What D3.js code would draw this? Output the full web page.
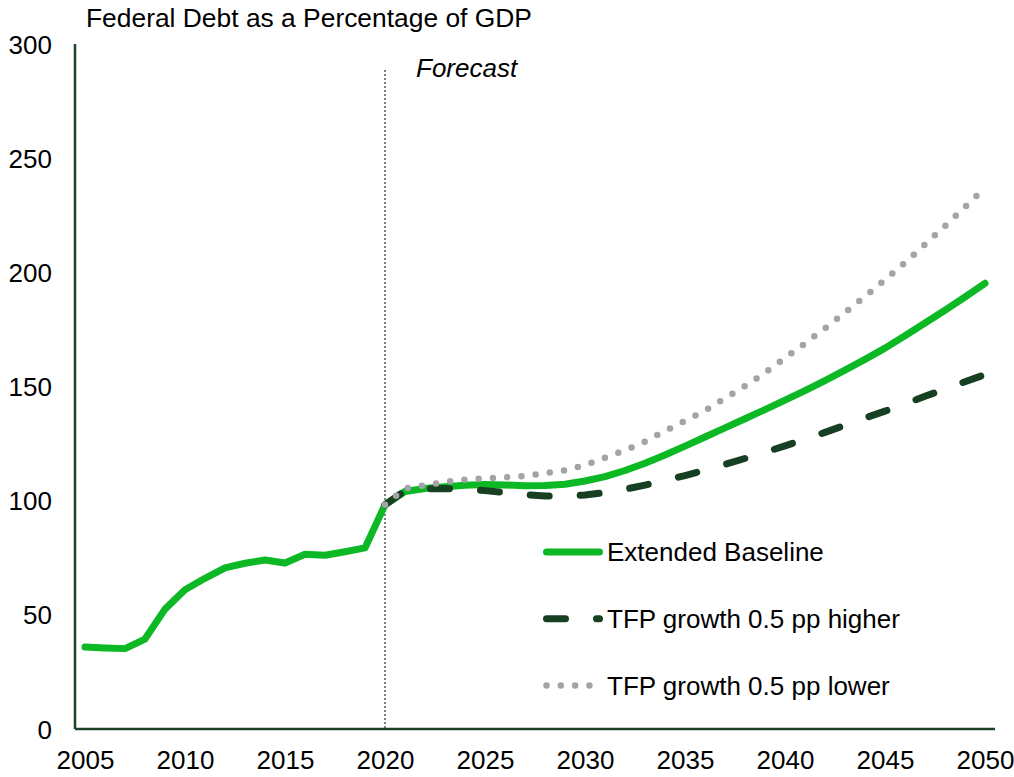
<!DOCTYPE html>
<html>
<head>
<meta charset="utf-8">
<script src="https://cdn.jsdelivr.net/npm/d3@7"></script>
<style>
    body { margin: 0; background: #ffffff; }
    svg { display: block; font-family: Arial, "Liberation Sans", sans-serif; }
</style>
</head>
<body>
<div id="chart"></div>
<script>
// data
let years = d3.range(2005, 2051)
let forecastYears = d3.range(2020, 2051)

// Extended Baseline: history 2005-2019, then forecast 2020-2050
let baseline = [35.9, 35.5, 35.2, 39.4, 52.5, 61.0, 66.0, 70.6, 72.6, 74.0,
    72.7, 76.5, 76.1, 77.6, 79.3, 98.2, 104.0, 105.3, 106.1, 106.8,
    107.1, 106.9, 106.5, 106.6, 107.2, 108.6, 110.5, 113.2, 116.4, 120.0,
    123.9, 127.9, 131.9, 135.9, 139.9, 144.0, 148.2, 152.6, 157.2, 161.9,
    166.8, 172.2, 177.8, 183.4, 189.2, 195.2]
let higher = [98.2, 104.3, 105.2, 105.3, 105.0, 104.4, 103.6, 102.6, 102.0, 102.0,
    102.5, 103.5, 105.0, 106.8, 108.8, 111.0, 113.4, 115.9, 118.5, 121.2,
    124.0, 126.9, 129.9, 133.0, 136.2, 139.2, 142.4, 145.7, 148.9, 152.1,
    155.2]
let lower = [98.2, 105.3, 106.7, 108.2, 109.2, 109.8, 110.2, 110.8, 112.1, 113.3,
    115.6, 118.8, 122.0, 125.9, 130.5, 135.0, 139.4, 144.9, 150.2, 156.0,
    162.5, 168.9, 175.5, 182.4, 189.5, 196.7, 204.3, 212.2, 220.3, 228.6,
    237.0]

let yTicks = [0, 50, 100, 150, 200, 250, 300]
let xTicks = [2005, 2010, 2015, 2020, 2025, 2030, 2035, 2040, 2045, 2050]
let seriesNames = ['Extended Baseline', 'TFP growth 0.5 pp higher', 'TFP growth 0.5 pp lower']
let title = 'Federal Debt as a Percentage of GDP'

window.onload = function() {
    drawChart();
}

function drawChart () {
    let width = 1014
    let height = 777
    let left = 75, right = 995, top = 44, bottom = 729
    let green = '#0cb824'
    let dark = '#173f22'
    let grey = '#a4a3a9'
    let axisColor = '#1c4227'

    let svg = d3.select('#chart')
        .append('svg')
        .attr('id', 'debt')
        .attr('width', width)
        .attr('height', height);

    let x = d3.scaleLinear().domain([2004.5, 2050.5]).range([left, right])
    let y = d3.scaleLinear().domain([0, 300]).range([bottom, top])

    //title
    svg.append('text')
        .attr('x', 86)
        .attr('y', 27)
        .attr('font-size', 26.4)
        .attr('fill', '#000')
        .text(title);

    //forecast divider
    svg.append('line')
        .attr('x1', x(2020))
        .attr('x2', x(2020))
        .attr('y1', 70)
        .attr('y2', bottom)
        .attr('stroke', '#000')
        .attr('stroke-width', 1)
        .attr('stroke-dasharray', '2,2');
    svg.append('text')
        .attr('x', 416)
        .attr('y', 77)
        .attr('font-size', 26)
        .attr('font-style', 'italic')
        .text('Forecast');

    //y axis labels
    let yAxis = d3.axisLeft(y).tickValues(yTicks).tickSize(0).tickPadding(23)
    svg.append('g')
        .attr('transform', `translate(${left},0)`)
        .call(yAxis)
        .call(g => g.select('.domain').remove())
        .selectAll('text')
        .attr('font-size', 26)
        .attr('font-family', null)
        .attr('fill', '#000')
        .attr('dy', '0.35em');

    //x axis labels
    let xAxis = d3.axisBottom(x).tickValues(xTicks).tickFormat(d3.format('d')).tickSize(0).tickPadding(22)
    svg.append('g')
        .attr('transform', `translate(0,${bottom})`)
        .call(xAxis)
        .call(g => g.select('.domain').remove())
        .selectAll('text')
        .attr('font-size', 26)
        .attr('font-family', null)
        .attr('fill', '#000');

    //axis lines
    svg.append('line')
        .attr('x1', left)
        .attr('x2', left)
        .attr('y1', top)
        .attr('y2', bottom)
        .attr('stroke', axisColor)
        .attr('stroke-width', 2.5);
    svg.append('line')
        .attr('x1', left)
        .attr('x2', right)
        .attr('y1', bottom)
        .attr('y2', bottom)
        .attr('stroke', axisColor)
        .attr('stroke-width', 2.5);

    let line = d3.line()
        .x(d => x(d[0]))
        .y(d => y(d[1]))

    //lines
    svg.append('path')
        .datum(years.map((yr, i) => [yr, baseline[i]]))
        .attr('d', line)
        .attr('fill', 'none')
        .attr('stroke', green)
        .attr('stroke-width', 7)
        .attr('stroke-linecap', 'round')
        .attr('stroke-linejoin', 'round');
    svg.append('path')
        .datum(forecastYears.map((yr, i) => [yr, higher[i]]))
        .attr('d', line)
        .attr('fill', 'none')
        .attr('stroke', dark)
        .attr('stroke-width', 7)
        .attr('stroke-linecap', 'round')
        .attr('stroke-dasharray', '19,31');
    svg.append('path')
        .datum(forecastYears.map((yr, i) => [yr, lower[i]]))
        .attr('d', line)
        .attr('fill', 'none')
        .attr('stroke', grey)
        .attr('stroke-width', 6.5)
        .attr('stroke-linecap', 'round')
        .attr('stroke-dasharray', '0,14.3');

    //legend
    let legendStyles = [
        {color: green, width: 7, dash: null},
        {color: dark, width: 7, dash: '19,31'},
        {color: grey, width: 6.5, dash: '0,14.3'}
    ]
    let legend = svg.append('g')
        .attr('id', 'legend');
    seriesNames.forEach((name, i) => {
        let ly = 552 + i * 66.7
        legend.append('line')
            .attr('x1', 546.5)
            .attr('x2', i == 2 ? 592 : 599.5)
            .attr('y1', ly)
            .attr('y2', ly)
            .attr('stroke', legendStyles[i].color)
            .attr('stroke-width', legendStyles[i].width)
            .attr('stroke-linecap', 'round')
            .attr('stroke-dasharray', legendStyles[i].dash);
        legend.append('text')
            .attr('x', 607)
            .attr('y', ly)
            .attr('dy', '0.35em')
            .attr('font-size', 26)
            .text(name);
    });
}
</script>
</body>
</html>
